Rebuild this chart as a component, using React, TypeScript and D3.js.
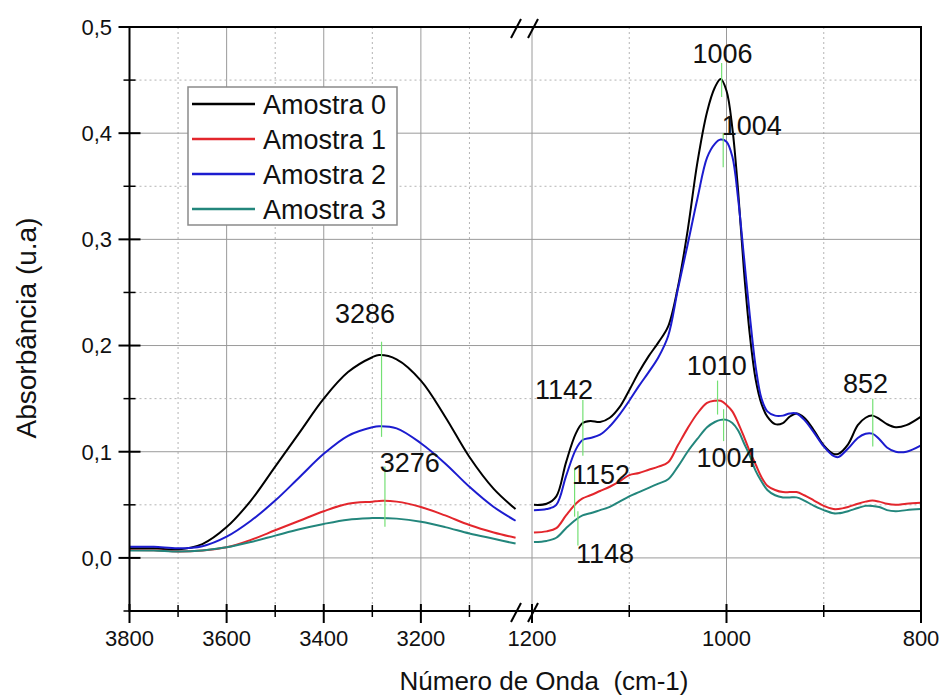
import React from "react";
import * as d3 from "d3";

// ---------- data ----------
const SERIES_NAMES = ["Amostra 0", "Amostra 1", "Amostra 2", "Amostra 3"];
const SERIES_COLORS = ["#000000", "#e3262c", "#1c1ccf", "#23867c"];

const LEFT_WN = [3800, 3750, 3700, 3650, 3600, 3550, 3500, 3450, 3400, 3350, 3300, 3286, 3250, 3200, 3150, 3100, 3050, 3005];
const RIGHT_WN = [1198, 1185, 1175, 1165, 1155, 1148, 1140, 1130, 1120, 1110, 1100, 1090, 1080, 1070, 1060, 1050, 1040, 1030, 1020, 1012, 1006, 1000, 994, 988, 982, 976, 970, 964, 958, 950, 942, 935, 928, 920, 910, 900, 890, 885, 875, 865, 857, 850, 843, 835, 826, 815, 800];

const A0_LEFT = [0.009, 0.009, 0.008, 0.013, 0.029, 0.054, 0.086, 0.118, 0.150, 0.175, 0.189, 0.191, 0.187, 0.167, 0.133, 0.095, 0.065, 0.046];
const A1_LEFT = [0.0075, 0.0072, 0.006, 0.007, 0.010, 0.017, 0.026, 0.035, 0.044, 0.051, 0.053, 0.0537, 0.053, 0.048, 0.040, 0.031, 0.024, 0.019];
const A2_LEFT = [0.0105, 0.0105, 0.009, 0.011, 0.020, 0.035, 0.054, 0.076, 0.098, 0.115, 0.123, 0.124, 0.122, 0.108, 0.089, 0.067, 0.048, 0.035];
const A3_LEFT = [0.007, 0.007, 0.006, 0.007, 0.010, 0.015, 0.021, 0.027, 0.032, 0.036, 0.0375, 0.0377, 0.037, 0.034, 0.029, 0.023, 0.018, 0.0135];

const A0_RIGHT = [0.050, 0.051, 0.058, 0.090, 0.117, 0.127, 0.129, 0.128, 0.132, 0.142, 0.158, 0.175, 0.190, 0.203, 0.218, 0.255, 0.308, 0.372, 0.420, 0.443, 0.451, 0.440, 0.405, 0.345, 0.270, 0.210, 0.168, 0.145, 0.133, 0.126, 0.127, 0.133, 0.136, 0.132, 0.120, 0.106, 0.098, 0.098, 0.107, 0.125, 0.132, 0.134, 0.131, 0.126, 0.123, 0.125, 0.133];
const A1_RIGHT = [0.024, 0.025, 0.028, 0.040, 0.051, 0.056, 0.059, 0.063, 0.067, 0.072, 0.078, 0.080, 0.083, 0.086, 0.090, 0.106, 0.122, 0.136, 0.146, 0.148, 0.148, 0.144, 0.138, 0.127, 0.114, 0.100, 0.088, 0.076, 0.068, 0.064, 0.062, 0.062, 0.062, 0.059, 0.054, 0.049, 0.046, 0.046, 0.048, 0.051, 0.053, 0.054, 0.053, 0.051, 0.050, 0.051, 0.052];
const A2_RIGHT = [0.045, 0.046, 0.050, 0.077, 0.102, 0.111, 0.113, 0.116, 0.124, 0.135, 0.148, 0.162, 0.175, 0.189, 0.209, 0.253, 0.295, 0.338, 0.377, 0.390, 0.394, 0.392, 0.378, 0.338, 0.283, 0.228, 0.180, 0.150, 0.138, 0.134, 0.134, 0.136, 0.136, 0.130, 0.118, 0.105, 0.096, 0.095, 0.103, 0.113, 0.117, 0.117, 0.112, 0.104, 0.100, 0.100, 0.106];
const A3_RIGHT = [0.015, 0.016, 0.019, 0.028, 0.036, 0.040, 0.042, 0.045, 0.048, 0.053, 0.058, 0.062, 0.066, 0.070, 0.074, 0.086, 0.100, 0.112, 0.123, 0.128, 0.130, 0.130, 0.127, 0.120, 0.108, 0.096, 0.082, 0.072, 0.064, 0.059, 0.057, 0.057, 0.057, 0.054, 0.049, 0.045, 0.042, 0.042, 0.044, 0.047, 0.049, 0.049, 0.048, 0.045, 0.044, 0.045, 0.046];

const LEFT_VALUES = [A0_LEFT, A1_LEFT, A2_LEFT, A3_LEFT];
const RIGHT_VALUES = [A0_RIGHT, A1_RIGHT, A2_RIGHT, A3_RIGHT];

const X_TICKS_LEFT = [3800, 3600, 3400, 3200];
const X_MINOR_LEFT = [3700, 3500, 3300, 3100];
const X_TICKS_RIGHT = [1200, 1000, 800];
const X_MINOR_RIGHT = [1100, 900];
const Y_TICKS = [0, 0.1, 0.2, 0.3, 0.4, 0.5];
const Y_MINOR = [-0.05, 0.05, 0.15, 0.25, 0.35, 0.45];

// peak annotations (value units)
const ANN_LABELS = ["3286", "3276", "1006", "1004", "1010", "1004", "1142", "1152", "1148", "852"];
const ANN_SIDE = ["L", "L", "R", "R", "R", "R", "R", "R", "R", "R"];
const ANN_TEXT_WN = [3315, 3223, 1004, 974, 1010, 1000, 1167, 1129, 1125, 857];
const ANN_TEXT_Y = [0.2215, 0.0812, 0.466, 0.3986, 0.172, 0.086, 0.150, 0.070, -0.005, 0.155];
const ANN_LINE_WN = [3281, 3274, 1005, 1003.4, 1009.2, 1003, 1147.7, 1156.2, 1152.8, 849.6];
const ANN_LINE_Y1 = [0.2036, 0.086, 0.466, 0.400, 0.167, 0.140, 0.1486, 0.0845, 0.0439, 0.150];
const ANN_LINE_Y2 = [0.114, 0.0294, 0.434, 0.368, 0.135, 0.110, 0.0963, 0.0389, 0.0118, 0.105];

// ---------- layout ----------
const W = 941;
const H = 698;
const PL = 129.5;
const PR = 921;
const PT = 27;
const PB = 611;
const BREAK_L = 518;
const BREAK_R = 532;
const FONT = "Arial, 'Liberation Sans', sans-serif";

const xL = d3.scaleLinear().domain([3800, 3000]).range([PL, BREAK_L]);
const xR = d3.scaleLinear().domain([1200, 800]).range([BREAK_R, PR]);
const y = d3.scaleLinear().domain([-0.05, 0.5]).range([PB, PT]);

const locale = d3.formatLocale({ decimal: ",", thousands: ".", grouping: [3], currency: ["", ""] });
const fmtY = locale.format(".1f");

export default function App() {
  const mkLine = (xs: any) =>
    d3
      .line<[number, number]>()
      .x((d) => xs(d[0]))
      .y((d) => y(d[1]))
      .curve(d3.curveCatmullRom.alpha(0.5));

  const lineL = mkLine(xL);
  const lineR = mkLine(xR);

  const gridSolid = "#9a9a9a";
  const gridDot = "#b4b4b4";

  const xMajorAll = [
    ...X_TICKS_LEFT.map((v) => xL(v)),
    ...X_TICKS_RIGHT.map((v) => xR(v)),
  ];
  const xMinorAll = [
    ...X_MINOR_LEFT.map((v) => xL(v)),
    ...X_MINOR_RIGHT.map((v) => xR(v)),
  ];

  const legendX = 188;
  const legendY = 87;
  const legendW = 209;
  const legendH = 138;
  const rowH = 35;

  const slash = (cx: number, cy: number) => (
    <line x1={cx - 5} y1={cy + 11} x2={cx + 5} y2={cy - 8} stroke="#000" strokeWidth={2} />
  );

  return (
    <svg
      width={W}
      height={H}
      style={{ position: "absolute", left: 0, top: 0, background: "#fff" }}
      fontFamily={FONT}
    >
      <rect x={0} y={0} width={W} height={H} fill="#fff" />
      {/* vertical grid */}
      {xMajorAll
        .filter((px) => px > PL + 1 && px < PR - 1)
        .map((px, i) => (
          <line key={"vg" + i} x1={px} x2={px} y1={PT} y2={PB} stroke={gridSolid} strokeWidth={1} />
        ))}
      {xMinorAll.map((px, i) => (
        <line key={"vm" + i} x1={px} x2={px} y1={PT} y2={PB} stroke={gridDot} strokeWidth={1} strokeDasharray="2,3" />
      ))}
      {/* horizontal grid */}
      {Y_TICKS.filter((v) => v < 0.5).map((v, i) => (
        <line key={"hg" + i} x1={PL} x2={PR} y1={y(v)} y2={y(v)} stroke={gridSolid} strokeWidth={1} />
      ))}
      {Y_MINOR.filter((v) => v > -0.05).map((v, i) => (
        <line key={"hm" + i} x1={PL} x2={PR} y1={y(v)} y2={y(v)} stroke={gridDot} strokeWidth={1} strokeDasharray="2,3" />
      ))}

      {/* series */}
      {SERIES_NAMES.map((name, si) => {
        const left = LEFT_WN.map((w, i) => [w, LEFT_VALUES[si][i]] as [number, number]);
        const right = RIGHT_WN.map((w, i) => [w, RIGHT_VALUES[si][i]] as [number, number]);
        return (
          <g key={name}>
            <path d={lineL(left) || ""} fill="none" stroke={SERIES_COLORS[si]} strokeWidth={2} />
            <path d={lineR(right) || ""} fill="none" stroke={SERIES_COLORS[si]} strokeWidth={2} />
          </g>
        );
      })}

      {/* annotations */}
      {ANN_LABELS.map((lab, i) => {
        const xs = ANN_SIDE[i] === "L" ? xL : xR;
        return (
          <g key={"ann" + i}>
            <line
              x1={xs(ANN_LINE_WN[i])}
              x2={xs(ANN_LINE_WN[i])}
              y1={y(ANN_LINE_Y1[i])}
              y2={y(ANN_LINE_Y2[i])}
              stroke="#74e074"
              strokeWidth={1.2}
            />
            <text x={xs(ANN_TEXT_WN[i])} y={y(ANN_TEXT_Y[i])} textAnchor="middle" fontSize={27} fill="#111">
              {lab}
            </text>
          </g>
        );
      })}

      {/* frame */}
      <rect x={PL} y={PT} width={PR - PL} height={PB - PT} fill="none" stroke="#000" strokeWidth={2} />

      {/* axis break marks */}
      {slash(BREAK_L - 2, PT)}
      {slash(BREAK_R + 1, PT)}
      {slash(BREAK_L - 2, PB)}
      {slash(BREAK_R + 1, PB)}

      {/* x ticks */}
      {xMajorAll.map((px, i) => (
        <line key={"xt" + i} x1={px} x2={px} y1={PB - 7} y2={PB + 12} stroke="#000" strokeWidth={2} />
      ))}
      {xMinorAll.map((px, i) => (
        <line key={"xtm" + i} x1={px} x2={px} y1={PB - 6} y2={PB + 6} stroke="#000" strokeWidth={1.5} />
      ))}
      {X_TICKS_LEFT.map((v) => (
        <text key={"xl" + v} x={xL(v)} y={646} textAnchor="middle" fontSize={22} fill="#111">
          {v}
        </text>
      ))}
      {X_TICKS_RIGHT.map((v) => (
        <text key={"xr" + v} x={xR(v)} y={646} textAnchor="middle" fontSize={22} fill="#111">
          {v}
        </text>
      ))}

      {/* y ticks */}
      {Y_TICKS.map((v) => (
        <line key={"yt" + v} x1={PL - 11} x2={PL + 11} y1={y(v)} y2={y(v)} stroke="#000" strokeWidth={2} />
      ))}
      {Y_MINOR.map((v) => (
        <line key={"ytm" + v} x1={PL - 6} x2={PL + 6} y1={y(v)} y2={y(v)} stroke="#000" strokeWidth={1.5} />
      ))}
      {Y_TICKS.map((v) => (
        <text key={"yl" + v} x={112} y={y(v)} dy="0.36em" textAnchor="end" fontSize={22} fill="#111">
          {fmtY(v)}
        </text>
      ))}

      {/* axis titles */}
      <text x={544} y={690} textAnchor="middle" fontSize={26} fill="#111" style={{ whiteSpace: "pre" }}>
        {"Número de Onda  (cm-1)"}
      </text>
      <text transform={`translate(36, 328) rotate(-90)`} textAnchor="middle" fontSize={28} fill="#111">
        Absorbância (u.a)
      </text>

      {/* legend */}
      <rect x={legendX} y={legendY} width={legendW} height={legendH} fill="#fff" stroke="#8a8a8a" strokeWidth={1.5} />
      {SERIES_NAMES.map((name, i) => {
        const cy = legendY + 17 + i * rowH;
        return (
          <g key={"lg" + name}>
            <line x1={legendX + 4} x2={legendX + 67} y1={cy} y2={cy} stroke={SERIES_COLORS[i]} strokeWidth={2.5} />
            <text x={legendX + 75} y={cy} dy="0.36em" fontSize={27} fill="#111">
              {name}
            </text>
          </g>
        );
      })}
    </svg>
  );
}
